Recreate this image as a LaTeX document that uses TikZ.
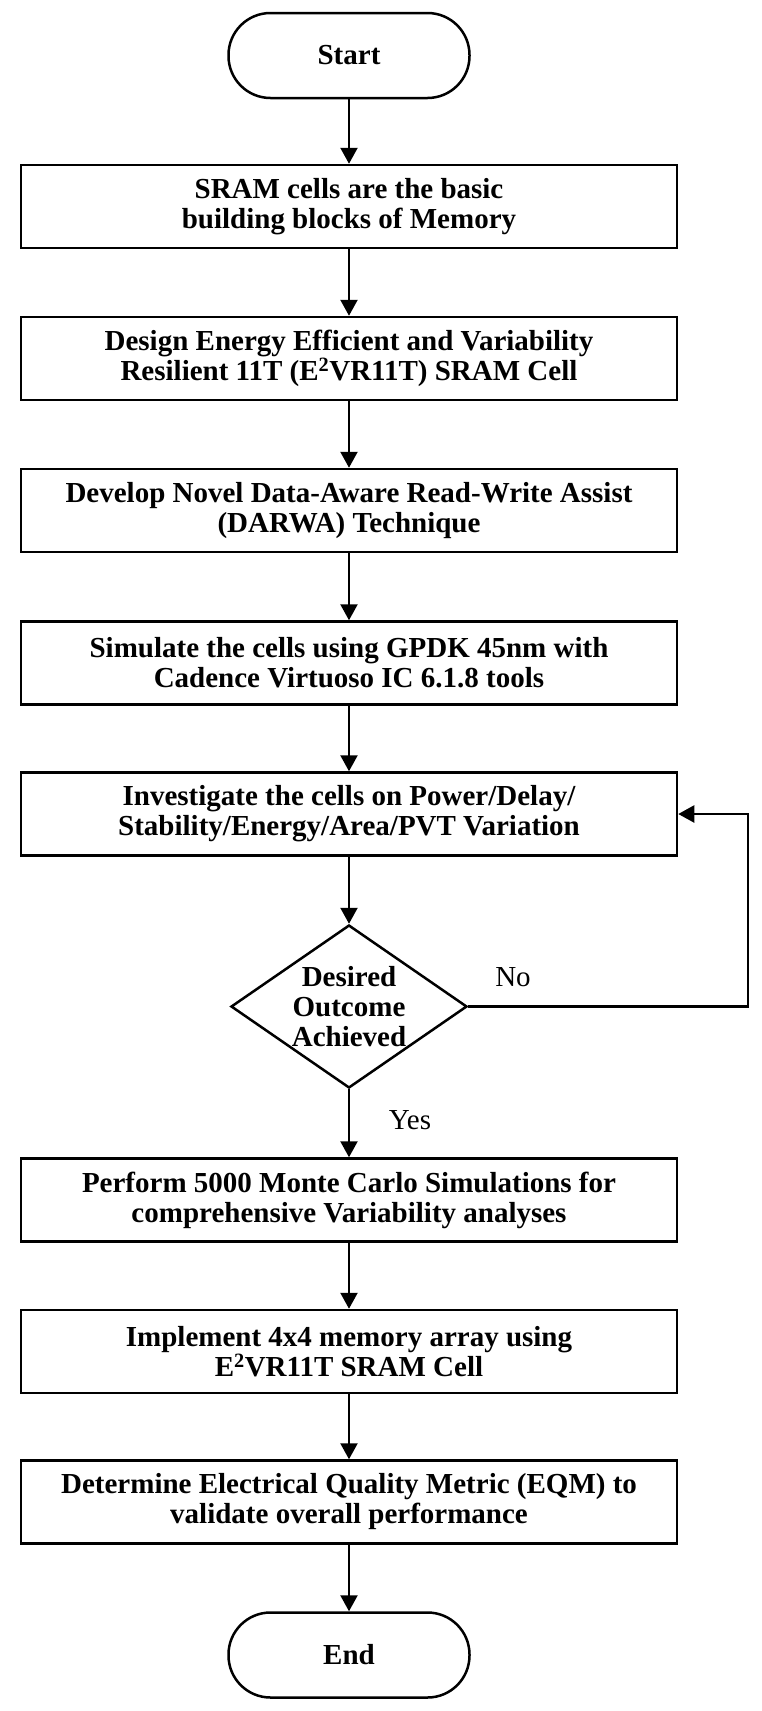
\documentclass[tikz,border=0pt]{standalone}
\usepackage{fontspec}
\setmainfont{Liberation Serif}
\usetikzlibrary{shapes.geometric,arrows.meta}
\begin{document}
\begin{tikzpicture}[x=1pt,y=-1pt,
  stepbox/.style={draw,line width=2.5pt,minimum width=656pt,minimum height=83pt,inner sep=0pt,align=center,font=\fontsize{29}{30}\selectfont\bfseries},
  term/.style={draw,line width=2.5pt,rounded corners=42pt,minimum width=241pt,minimum height=85pt,inner sep=0pt,font=\fontsize{29}{30}\selectfont\bfseries},
  decision/.style={draw,diamond,line width=2.5pt,minimum width=236pt,minimum height=163pt,inner sep=0pt},
  dectext/.style={align=center,inner sep=0pt,font=\fontsize{29}{30}\selectfont\bfseries},
  lbl/.style={inner sep=0pt,font=\fontsize{29}{30}\selectfont},
  arr/.style={line width=2.3pt,-{Triangle[width=17pt,length=16pt]}}]
\useasboundingbox (0,0) rectangle (761,1711);
\node[term] (start) at (349,55.5) {Start};
\node[stepbox] (b1) at (349,206.5) {SRAM cells are the basic\\building blocks of Memory};
\node[stepbox] (b2) at (349,358.5) {Design Energy Efficient and Variability\\Resilient 11T (E\textsuperscript{2}VR11T) SRAM Cell};
\node[stepbox] (b3) at (349,510.5) {Develop Novel Data-Aware Read-Write Assist\\(DARWA) Technique};
\node[stepbox] (b4) at (349,663) {Simulate the cells using GPDK 45nm with\\Cadence Virtuoso IC 6.1.8 tools};
\node[stepbox] (b5) at (349,814) {Investigate the cells on Power/Delay/\\Stability/Energy/Area/PVT Variation};
\node[decision] (dec) at (349,1006.5) {};
\node[dectext] (dect) at (349,1007) {Desired\\Outcome\\Achieved};
\node[stepbox] (b6) at (349,1200) {Perform 5000 Monte Carlo Simulations for\\comprehensive Variability analyses};
\node[stepbox] (b7) at (349,1351.5) {Implement 4x4 memory array using\\E\textsuperscript{2}VR11T SRAM Cell};
\node[stepbox] (b8) at (349,1502) {Determine Electrical Quality Metric (EQM) to\\validate overall performance};
\node[term] (end) at (349,1655) {End};
\node[lbl] (no) at (513,977) {No};
\node[lbl] (yes) at (410,1120) {Yes};
\coordinate (lp1) at (748,1006.5);
\coordinate (lp2) at (748,814);
\draw[arr] (start) -- (b1);
\draw[arr] (b1) -- (b2);
\draw[arr] (b2) -- (b3);
\draw[arr] (b3) -- (b4);
\draw[arr] (b4) -- (b5);
\draw[arr] (b5) -- (dec);
\draw[arr] (dec) -- (b6);
\draw[arr] (b6) -- (b7);
\draw[arr] (b7) -- (b8);
\draw[arr] (b8) -- (end);
\draw[arr] (dec.east) -- (lp1) -- (lp2) -- (b5.east);
\end{tikzpicture}
\end{document}
